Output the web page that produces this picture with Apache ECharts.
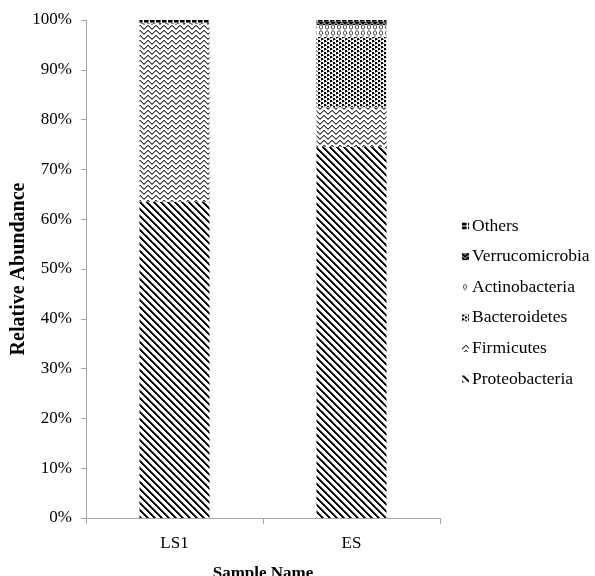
<!DOCTYPE html>
<html>
<head>
<meta charset="utf-8">
<script src="https://cdn.jsdelivr.net/npm/echarts@6/dist/echarts.min.js"></script>
<style>
  html, body { margin: 0; padding: 0; background: #fff; }
  #chart { width: 595px; height: 576px; }
</style>
</head>
<body>
<div id="chart"></div>
<script>
// Sample names on the x axis
const samples = ['LS1', 'ES'];

// Relative abundance (%) per phylum, one value per sample
const proteobacteria  = [63.5, 74.5];
const firmicutes      = [35.8, 8.0];
const bacteroidetes   = [0.1, 14.1];
const actinobacteria  = [0.1, 2.4];
const verrucomicrobia = [0.0, 0.7];
const others          = [0.5, 0.3];

// Y axis tick labels step
const yTickStep = 10;

// ---- fill patterns drawn into small tiles ----
function tile(w, h, draw) {
  const c = document.createElement('canvas');
  c.width = w; c.height = h;
  const ctx = c.getContext('2d');
  ctx.fillStyle = '#fff';
  ctx.fillRect(0, 0, w, h);
  draw(ctx, w, h);
  return { image: c, repeat: 'repeat' };
}
function px(ctx, x, y, col) { ctx.fillStyle = col; ctx.fillRect(x, y, 1, 1); }

// wide downward diagonal stripes
const patProteo = tile(7, 7, (ctx, w, h) => {
  for (let y = 0; y < h; y++) for (let x = 0; x < w; x++) {
    const d = ((x - y) % 7 + 7) % 7;
    if (d < 2) px(ctx, x, y, '#000');
    else if (d === 2) px(ctx, x, y, '#555');
  }
});
// stacked grey chevrons
const patFirm = tile(8, 5, (ctx) => {
  const wave = [3, 2, 1, 0, 0, 1, 2, 3];
  for (let x = 0; x < 8; x++) {
    px(ctx, x, wave[x], '#3a3a3a');
    px(ctx, x, (wave[x] + 1) % 5, '#9a9a9a');
  }
});
// staggered dark blocks
const patBact = tile(6, 4, (ctx) => {
  const B = '#000', G = '#8a8a8a';
  [[0,0],[1,0],[0,1],[1,1],[3,2],[4,2],[3,3],[4,3]].forEach(([x, y]) => px(ctx, x, y, B));
  [[3,0],[2,1],[0,2],[5,3]].forEach(([x, y]) => px(ctx, x, y, G));
});
// open small rings
const patActino = tile(6, 6, (ctx) => {
  ctx.strokeStyle = '#555';
  ctx.lineWidth = 1;
  ctx.beginPath();
  ctx.ellipse(3, 3, 1.6, 2.2, 0, 0, Math.PI * 2);
  ctx.stroke();
});
// dark zigzag
const patVerru = tile(6, 4, (ctx) => {
  ctx.fillStyle = '#777';
  ctx.fillRect(0, 0, 6, 4);
  const wave = [0, 1, 2, 2, 1, 0];
  for (let x = 0; x < 6; x++) {
    px(ctx, x, wave[x], '#000');
    px(ctx, x, wave[x] + 1, '#000');
  }
});
// black blocks
const patOthers = tile(6, 4, (ctx) => {
  ctx.fillStyle = '#000';
  ctx.fillRect(0, 0, 4, 3);
  ctx.fillStyle = '#666';
  ctx.fillRect(4, 0, 1, 3);
});

const seriesDefs = [
  ['Proteobacteria', proteobacteria, patProteo],
  ['Firmicutes', firmicutes, patFirm],
  ['Bacteroidetes', bacteroidetes, patBact],
  ['Actinobacteria', actinobacteria, patActino],
  ['Verrucomicrobia', verrucomicrobia, patVerru],
  ['Others', others, patOthers]
];

const serif = '"Liberation Serif", "DejaVu Serif", serif';

const chart = echarts.init(document.getElementById('chart'), null, { renderer: 'canvas' });
chart.setOption({
  animation: false,
  backgroundColor: '#fff',
  grid: { left: 86, right: 155, top: 20, bottom: 58, containLabel: false, outerBoundsMode: 'none' },
  legend: {
    orient: 'vertical',
    left: 457,
    top: 211,
    data: seriesDefs.map(d => d[0]).reverse(),
    icon: 'rect',
    itemWidth: 7,
    itemHeight: 7,
    itemGap: 10.6,
    textStyle: { fontFamily: serif, fontSize: 17.5, color: '#000', padding: [0, 0, 0, -2], lineHeight: 20 }
  },
  xAxis: {
    type: 'category',
    data: samples,
    name: 'Sample Name',
    nameLocation: 'middle',
    nameGap: 47,
    nameMoveOverlap: false,
    nameTextStyle: { fontFamily: serif, fontSize: 17, fontWeight: 'bold', color: '#000' },
    axisLine: { lineStyle: { color: '#a6a6a6', width: 1 } },
    axisTick: { show: true, length: 6, lineStyle: { color: '#a6a6a6' } },
    axisLabel: { fontFamily: serif, fontSize: 17, color: '#000', margin: 17 }
  },
  yAxis: {
    type: 'value',
    min: 0,
    max: 100,
    interval: yTickStep,
    name: 'Relative Abundance',
    nameLocation: 'middle',
    nameGap: 57,
    nameMoveOverlap: false,
    nameTextStyle: { fontFamily: serif, fontSize: 20, fontWeight: 'bold', color: '#000' },
    axisLine: { show: true, lineStyle: { color: '#a6a6a6', width: 1 } },
    axisTick: { show: true, length: 5, lineStyle: { color: '#a6a6a6' } },
    axisLabel: { fontFamily: serif, fontSize: 17, color: '#000', margin: 14, formatter: '{value}%' },
    splitLine: { show: false }
  },
  series: seriesDefs.map(([name, values, pat]) => ({
    name,
    type: 'bar',
    stack: 'total',
    barWidth: 70,
    data: values,
    itemStyle: { color: pat }
  }))
});
</script>
</body>
</html>
